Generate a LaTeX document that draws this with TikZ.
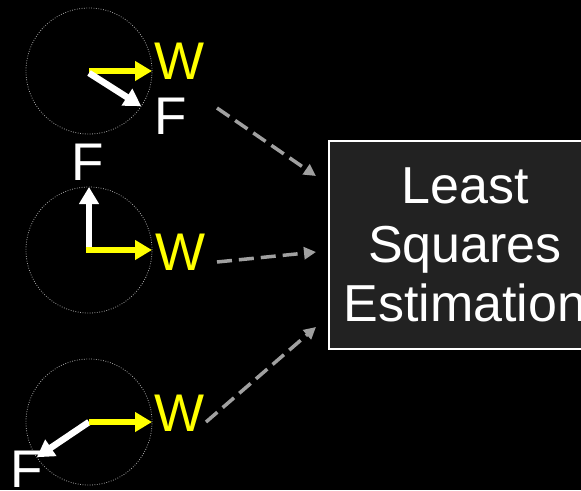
\documentclass[tikz,border=0pt]{standalone}
\usepackage{fontspec}
\setmainfont{Liberation Sans}
\usetikzlibrary{arrows.meta}
\definecolor{boxfill}{HTML}{222222}
\definecolor{dashgray}{HTML}{A0A0A0}
\definecolor{wyellow}{HTML}{FFFF00}
\tikzset{
  ring/.style={circle, draw=white!65!black, line width=0.8pt,
    dash pattern=on 0.8pt off 1.6pt, minimum size=126pt, inner sep=0pt, outer sep=0pt},
  wvec/.style={draw=wyellow, line width=6.5pt,
    -{Triangle[length=17pt,width=19pt]}},
  fvec/.style={draw=white, line width=6.5pt,
    -{Triangle[length=17pt,width=19pt]}},
  lbl/.style={inner sep=0pt, font=\fontsize{53}{59}\selectfont},
  wlbl/.style={lbl, text=wyellow},
  flbl/.style={lbl, text=white},
  link/.style={draw=dashgray, line width=3.5pt, dash pattern=on 15pt off 7pt,
    -{Triangle[length=12pt,width=12pt]}},
  estbox/.style={draw=white, line width=2pt, fill=boxfill, text=white,
    minimum width=272pt, minimum height=208pt, align=center,
    font=\fontsize{52}{59}\selectfont}
}
\begin{document}
\begin{tikzpicture}[x=1pt,y=-1pt]
  \useasboundingbox (0,0) rectangle (581,490);
  \fill[black] (0,0) rectangle (581,490);
  \clip (0,0) rectangle (581,490);

  % three sample rings
  \node[ring] (c1) at (89,71) {};
  \node[ring] (c2) at (89,250) {};
  \node[ring] (c3) at (89,422) {};

  % estimator box
  \node[estbox] (est) at (465,245) {Least\\Squares\\Estimation};

  % vectors in each ring
  \draw[wvec] (c1.center) -- (c1.east);
  \draw[fvec] ([yshift=-2pt]c1.center) -- (c1.-34);
  \draw[fvec] (c2.center) -- (c2.north);
  \draw[wvec] ([xshift=-3.2pt]c2.center) -- (c2.east);
  \draw[fvec] (c3.center) -- (c3.214);
  \draw[wvec] (c3.center) -- (c3.east);

  % labels
  \node[wlbl] (w1) at (180,61) {W};
  \node[flbl] (f1) at (171,116) {F};
  \node[flbl] (f2) at (88,162) {F};
  \node[wlbl] (w2) at (181,252) {W};
  \node[wlbl] (w3) at (180,413) {W};
  \node[flbl] (f3) at (27,469) {F};

  % dashed links into the estimator
  \coordinate (s1) at (217,108);
  \coordinate (e1) at (316,176);
  \coordinate (s2) at (217,262);
  \coordinate (e2) at (316,252);
  \coordinate (s3) at (206,422);
  \coordinate (e3) at (316,327);
  \draw[link] (s1) -- (e1);
  \draw[link] (s2) -- (e2);
  \draw[link] (s3) -- (e3);
\end{tikzpicture}
\end{document}
